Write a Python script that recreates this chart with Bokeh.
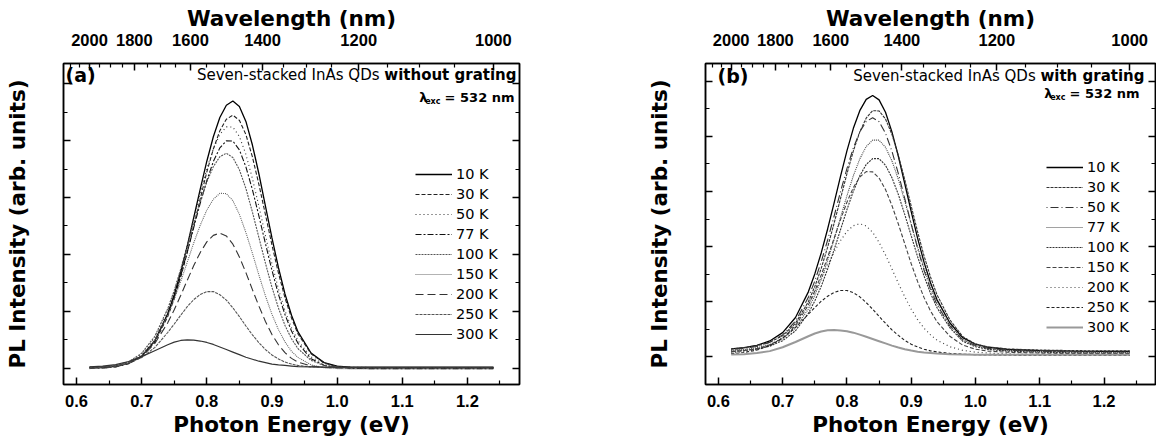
from bokeh.plotting import figure
from bokeh.models import (Range1d, LinearAxis, FixedTicker, CustomJSTickFormatter,
                          PrintfTickFormatter, Legend, LegendItem, Label)
from bokeh.layouts import row
from bokeh.embed import file_html
from bokeh.resources import INLINE

HC = 1239.84  # eV*nm, converts wavelength tick labels to photon energy

# ---------------- data ----------------
ENERGY = [0.62, 0.64, 0.66, 0.68, 0.70, 0.72, 0.74, 0.75, 0.76, 0.77, 0.78, 0.79,
          0.80, 0.81, 0.82, 0.83, 0.84, 0.85, 0.86, 0.87, 0.88, 0.89, 0.90, 0.91,
          0.92, 0.93, 0.94, 0.96, 0.98, 1.00, 1.02, 1.05, 1.10, 1.15, 1.20, 1.24]

TEMPS = ["10 K", "30 K", "50 K", "77 K", "100 K", "150 K", "200 K", "250 K", "300 K"]

# (a) without grating
A_10K = [0.02, 0.03, 0.07, 0.17, 0.42, 0.95, 1.91, 2.58, 3.39, 4.30, 5.30, 6.31, 7.28, 8.14, 8.82, 9.25, 9.40, 9.21,
         8.68, 7.85, 6.83, 5.70, 4.58, 3.53, 2.61, 1.86, 1.27, 0.53, 0.19, 0.07, 0.03, 0.02, 0.02, 0.02, 0.02, 0.02]
A_30K = [0.00, 0.01, 0.05, 0.15, 0.39, 0.90, 1.81, 2.45, 3.21, 4.07, 5.01, 5.97, 6.90, 7.71, 8.35, 8.76, 8.90, 8.72,
         8.22, 7.43, 6.46, 5.40, 4.33, 3.34, 2.47, 1.76, 1.20, 0.50, 0.18, 0.05, 0.01, 0.00, 0.00, 0.00, 0.00, 0.00]
A_50K = [0.03, 0.04, 0.08, 0.20, 0.48, 1.05, 2.04, 2.71, 3.49, 4.35, 5.27, 6.17, 7.01, 7.71, 8.22, 8.49, 8.48, 8.15,
         7.52, 6.67, 5.69, 4.66, 3.67, 2.78, 2.02, 1.42, 0.96, 0.39, 0.15, 0.06, 0.03, 0.02, 0.02, 0.02, 0.02, 0.02]
A_77K = [-0.01, 0.00, 0.04, 0.16, 0.42, 0.96, 1.89, 2.52, 3.26, 4.09, 4.95, 5.81, 6.60, 7.27, 7.75, 8.00, 7.99, 7.68,
         7.08, 6.28, 5.35, 4.38, 3.44, 2.59, 1.88, 1.30, 0.87, 0.33, 0.10, 0.02, -0.01, -0.02, -0.02, -0.02, -0.02, -0.02]
A_100K = [0.02, 0.03, 0.09, 0.22, 0.52, 1.11, 2.09, 2.73, 3.47, 4.26, 5.08, 5.86, 6.55, 7.09, 7.44, 7.56, 7.41, 6.98,
          6.32, 5.49, 4.59, 3.69, 2.84, 2.11, 1.50, 1.03, 0.68, 0.27, 0.09, 0.03, 0.02, 0.01, 0.01, 0.01, 0.01, 0.01]
A_150K = [-0.02, -0.01, 0.04, 0.16, 0.44, 0.97, 1.85, 2.42, 3.05, 3.73, 4.41, 5.03, 5.56, 5.94, 6.15, 6.14, 5.89, 5.41,
          4.77, 4.04, 3.27, 2.54, 1.89, 1.35, 0.92, 0.59, 0.37, 0.11, 0.01, -0.02, -0.03, -0.03, -0.03, -0.03, -0.03, -0.03]
A_200K = [0.01, 0.02, 0.06, 0.17, 0.40, 0.86, 1.59, 2.05, 2.56, 3.09, 3.61, 4.07, 4.44, 4.67, 4.75, 4.65, 4.36, 3.91,
          3.36, 2.76, 2.18, 1.64, 1.18, 0.82, 0.54, 0.34, 0.21, 0.07, 0.02, 0.00, 0.00, 0.00, 0.00, 0.00, 0.00, 0.00]
A_250K = [0.02, 0.04, 0.07, 0.17, 0.37, 0.72, 1.25, 1.55, 1.86, 2.16, 2.41, 2.59, 2.69, 2.69, 2.58, 2.39, 2.12, 1.81,
          1.48, 1.17, 0.89, 0.65, 0.46, 0.32, 0.21, 0.14, 0.09, 0.04, 0.03, 0.02, 0.02, 0.02, 0.02, 0.02, 0.02, 0.02]
A_300K = [0.04, 0.07, 0.12, 0.23, 0.40, 0.61, 0.82, 0.91, 0.97, 0.99, 0.98, 0.95, 0.90, 0.83, 0.74, 0.65, 0.56, 0.47,
          0.38, 0.31, 0.24, 0.19, 0.14, 0.11, 0.09, 0.07, 0.05, 0.04, 0.03, 0.03, 0.03, 0.03, 0.03, 0.03, 0.03, 0.03]

# (b) with grating
B_10K = [0.29, 0.34, 0.42, 0.58, 0.88, 1.43, 2.36, 3.01, 3.77, 4.64, 5.58, 6.55, 7.47, 8.29, 8.93, 9.34, 9.48, 9.32,
         8.87, 8.16, 7.27, 6.28, 5.27, 4.30, 3.43, 2.69, 2.08, 1.24, 0.70, 0.46, 0.35, 0.27, 0.23, 0.21, 0.20, 0.20]
B_30K = [0.29, 0.33, 0.41, 0.53, 0.77, 1.22, 2.00, 2.55, 3.21, 3.98, 4.84, 5.74, 6.64, 7.47, 8.16, 8.66, 8.93, 8.92,
         8.63, 8.07, 7.31, 6.42, 5.47, 4.53, 3.66, 2.90, 2.26, 1.35, 0.74, 0.47, 0.36, 0.29, 0.25, 0.23, 0.22, 0.22]
B_50K = [0.26, 0.31, 0.38, 0.53, 0.80, 1.30, 2.16, 2.75, 3.45, 4.24, 5.10, 5.99, 6.83, 7.58, 8.16, 8.54, 8.67, 8.53,
         8.11, 7.46, 6.65, 5.74, 4.82, 3.93, 3.14, 2.45, 1.90, 1.13, 0.62, 0.41, 0.31, 0.24, 0.21, 0.19, 0.18, 0.18]
B_77K = [0.23, 0.27, 0.33, 0.45, 0.66, 1.05, 1.74, 2.23, 2.81, 3.50, 4.25, 5.05, 5.84, 6.57, 7.18, 7.63, 7.86, 7.86,
         7.60, 7.11, 6.44, 5.65, 4.81, 3.98, 3.21, 2.54, 1.97, 1.17, 0.63, 0.41, 0.30, 0.24, 0.20, 0.18, 0.17, 0.17]
B_100K = [0.20, 0.23, 0.29, 0.39, 0.59, 0.95, 1.58, 2.03, 2.56, 3.19, 3.88, 4.61, 5.34, 6.01, 6.57, 6.98, 7.19, 7.19,
          6.95, 6.50, 5.89, 5.16, 4.39, 3.63, 2.93, 2.31, 1.79, 1.06, 0.57, 0.37, 0.27, 0.21, 0.17, 0.15, 0.14, 0.14]
B_150K = [0.19, 0.23, 0.30, 0.43, 0.68, 1.13, 1.88, 2.39, 2.97, 3.62, 4.30, 4.98, 5.61, 6.14, 6.52, 6.72, 6.71, 6.49,
          6.07, 5.49, 4.82, 4.10, 3.38, 2.73, 2.15, 1.67, 1.28, 0.75, 0.43, 0.28, 0.21, 0.17, 0.14, 0.12, 0.12, 0.12]
B_200K = [0.15, 0.19, 0.27, 0.43, 0.71, 1.19, 1.91, 2.35, 2.84, 3.33, 3.80, 4.22, 4.55, 4.76, 4.83, 4.75, 4.52, 4.15,
          3.70, 3.19, 2.67, 2.18, 1.73, 1.35, 1.04, 0.80, 0.61, 0.37, 0.24, 0.17, 0.14, 0.11, 0.09, 0.08, 0.08, 0.08]
B_250K = [0.12, 0.16, 0.25, 0.41, 0.68, 1.07, 1.55, 1.79, 2.02, 2.20, 2.34, 2.41, 2.41, 2.33, 2.18, 1.97, 1.73, 1.47,
          1.22, 0.98, 0.78, 0.60, 0.46, 0.36, 0.28, 0.22, 0.18, 0.13, 0.10, 0.08, 0.07, 0.06, 0.05, 0.05, 0.05, 0.05]
B_300K = [0.09, 0.10, 0.14, 0.21, 0.35, 0.54, 0.75, 0.85, 0.92, 0.97, 0.98, 0.96, 0.93, 0.88, 0.81, 0.73, 0.65, 0.57,
          0.49, 0.41, 0.34, 0.28, 0.23, 0.19, 0.16, 0.14, 0.12, 0.10, 0.09, 0.08, 0.08, 0.08, 0.08, 0.08, 0.08, 0.08]

SERIES_A = [A_10K, A_30K, A_50K, A_77K, A_100K, A_150K, A_200K, A_250K, A_300K]
SERIES_B = [B_10K, B_30K, B_50K, B_77K, B_100K, B_150K, B_200K, B_250K, B_300K]

E_TICKS = [0.6, 0.7, 0.8, 0.9, 1.0, 1.1, 1.2]
E_MINOR = [0.55, 0.65, 0.75, 0.85, 0.95, 1.05, 1.15, 1.25]
WL_TICKS = [2000, 1800, 1600, 1400, 1200, 1000]
WL_MINOR = [2100, 2050, 1950, 1900, 1850, 1750, 1700, 1650, 1550, 1500, 1450,
            1350, 1300, 1250, 1150, 1100, 1050]
Y_MAJOR = [0, 2, 4, 6, 8, 10]
Y_MINOR = [1, 3, 5, 7, 9]

# ---------------- styles ----------------
STYLE_A = [("#000000", "solid", 1.3), ("#222222", "4 2", 1.1), ("#333333", "1 3", 1.1),
           ("#111111", "6 2 2 2", 1.1), ("#555555", "2 1", 1.1), ("#666666", "1 1", 1.1),
           ("#333333", "8 4", 1.1), ("#555555", "3 1", 1.1), ("#333333", "solid", 1.2)]
STYLE_B = [("#000000", "solid", 1.3), ("#333333", "3 1", 1.1), ("#333333", "1 3 8 3", 1.1),
           ("#444444", "1 1", 1.1), ("#333333", "2 1", 1.1), ("#444444", "4 2", 1.1),
           ("#444444", "1 3", 1.2), ("#222222", "3 2", 1.1), ("#999999", "solid", 2.0)]

TICK_FONT = "Liberation Sans"
TEXT_FONT = "DejaVu Sans"
H = 443


def style_axis(ax, label_font_size="16.5px"):
    ax.axis_line_color = "black"
    ax.axis_line_width = 1.5
    ax.major_tick_line_color = "black"
    ax.minor_tick_line_color = "black"
    ax.major_tick_line_width = 1.5
    ax.minor_tick_line_width = 1.2
    ax.major_tick_in = 7
    ax.major_tick_out = 0
    ax.minor_tick_in = 4
    ax.minor_tick_out = 0
    ax.major_label_text_font = TICK_FONT
    ax.major_label_text_font_style = "bold"
    ax.major_label_text_font_size = label_font_size
    ax.major_label_text_color = "black"
    ax.axis_label_text_font = TEXT_FONT
    ax.axis_label_text_font_style = "bold"
    ax.axis_label_text_font_size = "21.5px"
    ax.axis_label_text_color = "black"


def make_panel(series, styles, width, left, right, top, frame_h, xr, yr, legend_loc):
    p = figure(width=width, height=H, x_range=Range1d(*xr), y_range=Range1d(*yr),
               min_border_left=left, min_border_right=right, min_border_top=top,
               min_border_bottom=H - top - frame_h,
               output_backend="svg", toolbar_location=None, tools="",
               x_axis_location=None, y_axis_location=None)
    p.grid.visible = False
    p.outline_line_color = "black"
    p.outline_line_width = 1.5
    p.background_fill_color = "white"
    p.border_fill_color = "white"

    bottom = LinearAxis(ticker=FixedTicker(ticks=E_TICKS, minor_ticks=E_MINOR),
                        formatter=PrintfTickFormatter(format="%.1f"),
                        axis_label="Photon Energy (eV)")
    style_axis(bottom)
    bottom.major_label_standoff = 10
    bottom.axis_label_standoff = 2
    p.add_layout(bottom, "below")

    top_ax = LinearAxis(ticker=FixedTicker(ticks=[HC / w for w in WL_TICKS],
                                           minor_ticks=[HC / w for w in WL_MINOR]),
                        formatter=CustomJSTickFormatter(code="return Math.round(1239.84 / tick).toString();"),
                        axis_label="Wavelength (nm)")
    style_axis(top_ax)
    top_ax.major_label_standoff = 18
    top_ax.axis_label_standoff = 0
    p.add_layout(top_ax, "above")

    left_ax = LinearAxis(ticker=FixedTicker(ticks=Y_MAJOR, minor_ticks=Y_MINOR),
                         formatter=CustomJSTickFormatter(code="return '';"),
                         axis_label="PL Intensity (arb. units)")
    style_axis(left_ax, "0px")
    left_ax.major_label_standoff = 0
    left_ax.axis_label_standoff = 34
    p.add_layout(left_ax, "left")

    right_ax = LinearAxis(ticker=FixedTicker(ticks=Y_MAJOR, minor_ticks=Y_MINOR),
                          formatter=CustomJSTickFormatter(code="return '';"))
    style_axis(right_ax, "0px")
    right_ax.major_label_standoff = 0
    p.add_layout(right_ax, "right")

    items = []
    for name, ys, (col, dash, lw) in zip(TEMPS, series, styles):
        r = p.line(ENERGY, ys, line_color=col, line_dash=dash, line_width=lw)
        items.append(LegendItem(label=name, renderers=[r]))
    leg = Legend(items=items, location=legend_loc, glyph_width=37, glyph_height=20,
                 label_height=20, spacing=0, padding=0, margin=0, label_standoff=4,
                 border_line_alpha=0, background_fill_alpha=0,
                 label_text_font=TEXT_FONT, label_text_font_size="14.5px",
                 label_text_color="black")
    p.add_layout(leg)
    return p


def add_text(p, x, y, text, size, bold=False, align="left", font=TEXT_FONT):
    p.add_layout(Label(x=x, y=y, text=text, text_font=font, text_font_size=size,
                       text_font_style="bold" if bold else "normal", text_align=align,
                       text_baseline="middle", text_color="black"))


def add_annotations(p, fx, fy, tag, tag_x, title_norm, title_bold, bold_w, title_right,
                    title_y, lam_right, lam_y):
    add_text(p, fx(tag_x), fy(title_y), tag, "19px", bold=True)
    add_text(p, fx(title_right), fy(title_y), title_bold, "15px", bold=True, align="right")
    add_text(p, fx(title_right - bold_w - 4.8), fy(title_y), title_norm, "15px", align="right")
    add_text(p, fx(lam_right), fy(lam_y), "= 532 nm", "13px", bold=True, align="right")
    add_text(p, fx(lam_right - 74), fy(lam_y + 4), "exc", "8px", bold=True, align="right")
    add_text(p, fx(lam_right - 87), fy(lam_y), "\u03bb", "13px", bold=True, align="right")


# ---------------- panel (a) ----------------
XR_A = (0.58, 1.28)
YR_A = (-0.58, 10.72)
pa = make_panel(SERIES_A, STYLE_A, width=539, left=63, right=20, top=63, frame_h=324,
                xr=XR_A, yr=YR_A, legend_loc=(352, 40))
ppe_a = 456 / (XR_A[1] - XR_A[0])
ppu_a = 324 / (YR_A[1] - YR_A[0])
fxa = lambda px: XR_A[0] + (px - 63) / ppe_a
fya = lambda py: YR_A[1] - (py - 63) / ppu_a
add_annotations(pa, fxa, fya, "(a)", 65, "Seven-stacked InAs QDs", "without grating", 132.2,
                516, 75, 514, 97)

# ---------------- panel (b) ----------------
XR_B = (0.58, 1.28)
YR_B = (-1.0, 10.64)
pb = make_panel(SERIES_B, STYLE_B, width=617, left=166, right=1, top=63, frame_h=321,
                xr=XR_B, yr=YR_B, legend_loc=(341, 47))
ppe_b = 450 / (XR_B[1] - XR_B[0])
ppu_b = 321 / (YR_B[1] - YR_B[0])
fxb = lambda px: XR_B[0] + (px - 705) / ppe_b
fyb = lambda py: YR_B[1] - (py - 63) / ppu_b
add_annotations(pb, fxb, fyb, "(b)", 717, "Seven-stacked InAs QDs", "with grating", 104.0,
                1144, 75, 1139, 93)

layout = row(pa, pb)
open("out.html", "w").write(file_html(layout, INLINE))
